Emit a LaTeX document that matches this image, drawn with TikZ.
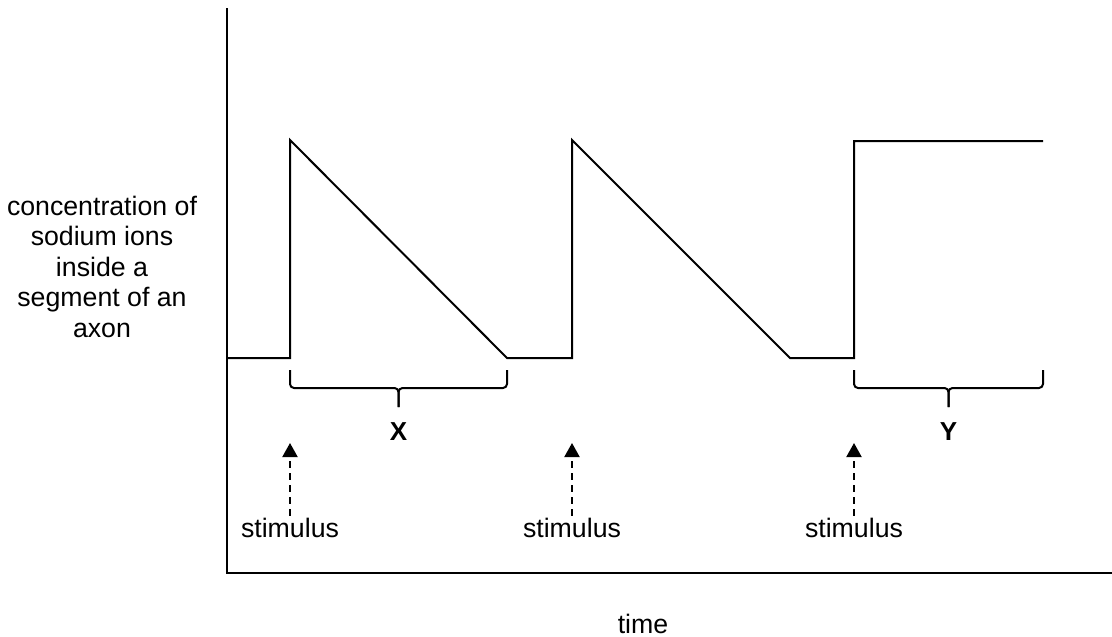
\documentclass[tikz,border=0pt]{standalone}
\usepackage{fontspec}
\setmainfont{Liberation Sans}
\usetikzlibrary{arrows.meta}
\begin{document}
\begin{tikzpicture}[x=1pt,y=-1pt,
  axis/.style={line width=2.7pt},
  trace/.style={line width=2pt, line join=miter},
  bracepath/.style={line width=2pt, rounded corners=4pt},
  lbl/.style={font=\fontsize{26.7}{30.5}\selectfont, inner sep=0pt},
  boldlbl/.style={font=\fontsize{26}{30}\selectfont\bfseries, inner sep=0pt},
  stimarrow/.style={line width=2pt, dash pattern=on 7pt off 5pt, -{Triangle[length=14pt,width=15pt]}}]
\useasboundingbox (0,0) rectangle (1112,637);
% axes
\coordinate (ytop) at (227,8);
\coordinate (o) at (227,573);
\coordinate (xend) at (1112,573);
\draw[axis] (ytop) -- (o) -- (xend);
% trace
\coordinate (p0) at (227,358);
\coordinate (p1) at (290,358);
\coordinate (p2) at (290,140);
\coordinate (p3) at (507,358);
\coordinate (p4) at (572,358);
\coordinate (p5) at (572,140);
\coordinate (p6) at (790,358);
\coordinate (p7) at (854,358);
\coordinate (p8) at (854,141);
\coordinate (p9) at (1043,141);
\draw[trace] (p0) -- (p1) -- (p2) -- (p3) -- (p4) -- (p5) -- (p6) -- (p7) -- (p8) -- (p9);
% brace X
\coordinate (xl) at (290,370);
\coordinate (xr) at (507,370);
\coordinate (xm) at (398.5,407);
\draw[bracepath] (xl) -- (290,388) -- (398.5,388) -- (xm);
\draw[bracepath] (xr) -- (507,388) -- (398.5,388) -- (xm);
\node[boldlbl] (X) at (398.5,432) {X};
% brace Y
\coordinate (yl) at (854,370);
\coordinate (yr) at (1043,370);
\coordinate (ym) at (948.5,407);
\draw[bracepath] (yl) -- (854,388) -- (948.5,388) -- (ym);
\draw[bracepath] (yr) -- (1043,388) -- (948.5,388) -- (ym);
\node[boldlbl] (Y) at (948.5,432) {Y};
% stimuli
\node[lbl, anchor=base, outer sep=2pt] (s1) at (290,537) {stimulus};
\node[lbl, anchor=base, outer sep=2pt] (s2) at (572,537) {stimulus};
\node[lbl, anchor=base, outer sep=2pt] (s3) at (854,537) {stimulus};
\coordinate (t1) at (290,443);
\coordinate (t2) at (572,443);
\coordinate (t3) at (854,443);
\draw[stimarrow] (s1.north) -- (t1);
\draw[stimarrow] (s2.north) -- (t2);
\draw[stimarrow] (s3.north) -- (t3);
% axis labels
\node[lbl, anchor=base] (time) at (643,633) {time};
\node[lbl, anchor=north, align=center] (ylab) at (102,195.5) {concentration of\\sodium ions\\inside a\\segment of an\\axon};
\end{tikzpicture}
\end{document}
